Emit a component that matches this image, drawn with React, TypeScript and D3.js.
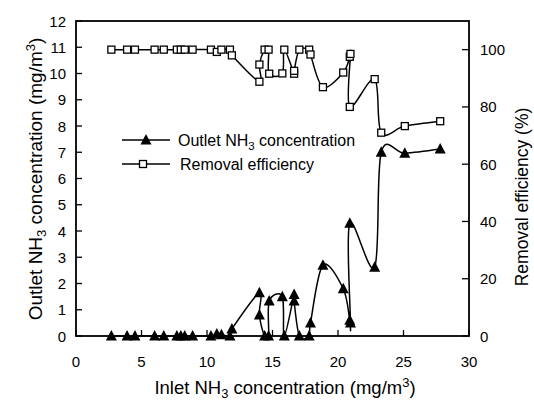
import { useMemo } from "react"
import * as d3 from "d3"

// inlet NH3 (mg/m3), in the order the points are joined
const inlet = [2.7, 3.9, 4.5, 6.0, 6.7, 7.7, 8.0, 8.3, 8.9, 10.3, 10.75, 11.1, 11.75, 11.9, 14.0, 14.0, 14.4, 14.7, 14.75, 15.75, 15.9, 16.65, 16.65, 17.05, 17.8, 17.9, 18.85, 20.4, 20.9, 20.95, 20.9, 22.8, 23.3, 25.1, 27.8]
// outlet NH3 (mg/m3)
const outlet = [0, 0, 0, 0, 0, 0, 0, 0, 0, 0, 0.08, 0.05, 0, 0.27, 1.65, 0.8, 0, 0, 1.33, 1.5, 0, 1.58, 1.33, 0, 0, 0.5, 2.7, 1.8, 0.6, 0.5, 4.3, 2.62, 7.0, 6.96, 7.12]
// removal efficiency (%)
const removal = [100, 100, 100, 100, 100, 100, 100, 100, 100, 100, 99.2, 100, 100, 98, 88.8, 94.8, 100, 100, 91.6, 91.7, 100, 91.6, 92.6, 100, 100, 98.3, 86.9, 92, 97.5, 98.5, 80, 89.7, 71, 73.3, 75]

const xTicks = [0, 5, 10, 15, 20, 25, 30]
const yLeftTicks = [0, 1, 2, 3, 4, 5, 6, 7, 8, 9, 10, 11, 12]
const yRightTicks = [0, 20, 40, 60, 80, 100]

const W = 534
const H = 401
const left = 76
const right = 469
const top = 21
const bottom = 336
const font = "'Liberation Sans', Arial, sans-serif"

function Triangle({ x, y }: { x: number; y: number }) {
  return <path d={`M${x},${y - 6}L${x + 5.5},${y + 4.5}L${x - 5.5},${y + 4.5}Z`} fill="black" />
}

function Square({ x, y }: { x: number; y: number }) {
  return <rect x={x - 3.5} y={y - 3.5} width={7} height={7} fill="white" stroke="black" strokeWidth={1.3} />
}

export default function App() {
  const x = d3.scaleLinear().domain([0, 30]).range([left, right])
  const yL = d3.scaleLinear().domain([0, 12]).range([bottom, top])
  const yR = d3.scaleLinear().domain([0, 110]).range([bottom, top])

  const outletPath = useMemo(() => {
    const line = d3.line<number>()
      .x((_, i) => x(inlet[i]))
      .y((d) => yL(d))
      .curve(d3.curveCardinal.tension(0))
    return line(outlet) || ""
  }, [])
  const removalPath = useMemo(() => {
    const line = d3.line<number>()
      .x((_, i) => x(inlet[i]))
      .y((d) => yR(d))
      .curve(d3.curveCardinal.tension(0))
    return line(removal) || ""
  }, [])

  return (
    <svg width={W} height={H} style={{ position: "absolute", left: 0, top: 0, background: "white" }} fontFamily={font}>
      {/* frame */}
      <rect x={left} y={top} width={right - left} height={bottom - top} fill="none" stroke="black" strokeWidth={1.8} />

      {/* x axis */}
      {xTicks.map((t) => (
        <g key={"x" + t}>
          <line x1={x(t)} x2={x(t)} y1={bottom} y2={bottom - 6} stroke="black" strokeWidth={1.3} />
          <text x={x(t)} y={367} textAnchor="middle" fontSize={15}>{t}</text>
        </g>
      ))}
      {/* left axis */}
      {yLeftTicks.map((t) => (
        <g key={"l" + t}>
          <line x1={left} x2={left + 6} y1={yL(t)} y2={yL(t)} stroke="black" strokeWidth={1.3} />
          <text x={66} y={yL(t) + 5.5} textAnchor="end" fontSize={15}>{t}</text>
        </g>
      ))}
      {/* right axis */}
      {yRightTicks.map((t) => (
        <g key={"r" + t}>
          <line x1={right} x2={right - 7} y1={yR(t)} y2={yR(t)} stroke="black" strokeWidth={1.3} />
          <text x={480} y={yR(t) + 5.5} textAnchor="start" fontSize={15}>{t}</text>
        </g>
      ))}

      {/* titles */}
      <text x={285} y={394} textAnchor="middle" fontSize={18.5}>
        Inlet NH<tspan fontSize={13} dy={4}>3</tspan><tspan dy={-4}> concentration (mg/m</tspan><tspan fontSize={13} dy={-7}>3</tspan><tspan dy={7}>)</tspan>
      </text>
      <text transform={`translate(42,179) rotate(-90)`} textAnchor="middle" fontSize={19}>
        Outlet NH<tspan fontSize={13} dy={4}>3</tspan><tspan dy={-4}> concentration (mg/m</tspan><tspan fontSize={13} dy={-7}>3</tspan><tspan dy={7}>)</tspan>
      </text>
      <text transform={`translate(528,197) rotate(-90)`} textAnchor="middle" fontSize={17.5}>
        Removal efficiency (%)
      </text>

      {/* data */}
      <path d={removalPath} fill="none" stroke="black" strokeWidth={1.5} />
      <path d={outletPath} fill="none" stroke="black" strokeWidth={1.5} />
      {removal.map((v, i) => <Square key={"s" + i} x={x(inlet[i])} y={yR(v)} />)}
      {outlet.map((v, i) => <Triangle key={"t" + i} x={x(inlet[i])} y={yL(v)} />)}

      {/* legend */}
      <line x1={122} x2={170} y1={140} y2={140} stroke="black" strokeWidth={1.5} />
      <Triangle x={146} y={140} />
      <text x={178} y={146} fontSize={16}>
        Outlet NH<tspan fontSize={11.5} dy={4}>3</tspan><tspan dy={-4}> concentration</tspan>
      </text>
      <line x1={122} x2={170} y1={164} y2={164} stroke="black" strokeWidth={1.5} />
      <Square x={143} y={164} />
      <text x={180} y={170} fontSize={16}>Removal efficiency</text>
    </svg>
  )
}
